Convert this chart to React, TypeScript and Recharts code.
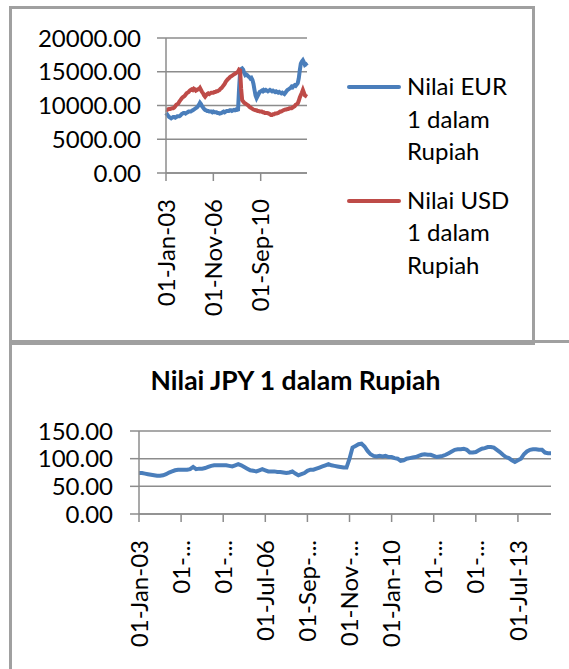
import React from "react";
import { CartesianGrid, Line, LineChart, XAxis, YAxis } from "recharts";

const MONTHS = ["Jan", "Feb", "Mar", "Apr", "May", "Jun", "Jul", "Aug", "Sep", "Oct", "Nov", "Dec"];

// monthly dates, Jan 2003 .. Jun 2014
const dates: string[] = [];
for (let i = 0; i < 138; i++) {
  const yy = String(3 + Math.floor(i / 12)).padStart(2, "0");
  dates.push(`01-${MONTHS[i % 12]}-${yy}`);
}

const eur = [
  8900, 8700, 8500, 8300, 8200, 8100, 8200, 8300, 8300, 8200,
  8300, 8400, 8400, 8400, 8500, 8700, 8800, 8900, 8900, 8800,
  8900, 9000, 9100, 9100, 9100, 9200, 9300, 9400, 9500, 9600,
  9700, 9900, 10100, 10400, 10200, 9900, 9700, 9500, 9350, 9300,
  9200, 9200, 9100, 9100, 9100, 9000, 9100, 9000, 9000, 9000,
  8900, 8900, 8800, 8850, 8900, 9000, 9100, 9000, 9100, 9200,
  9200, 9200, 9300, 9300, 9200, 9300, 9350, 9300, 9400, 9350,
  9400, 12500, 15000, 15400, 15500, 15300, 14800, 14500, 14600, 14500,
  14300, 14200, 14000, 14100, 13800, 13200, 12300, 11500, 11100, 11400,
  11700, 12000, 12100, 12200, 12100, 12300, 12200, 12300, 12200, 12100,
  12200, 12300, 12200, 12100, 12200, 12100, 12000, 12100, 12000, 11900,
  12000, 11900, 11800, 11900, 11800, 11700, 11900, 12100, 12300, 12400,
  12500, 12600, 12800, 12700, 12900, 13000, 12900, 13100, 13300, 14000,
  15200, 16200, 16500, 16700, 16400, 16000, 16100, 15900,
];

const usd = [
  9400, 9350, 9450, 9500, 9500, 9550, 9600, 9600, 9700, 9900,
  10100, 10200, 10300, 10600, 10800, 11000, 11200, 11300, 11400, 11600,
  11800, 11900, 12000, 12200, 12300, 12400, 12300, 12500, 12400, 12200,
  12300, 12400, 12400, 12600, 12300, 12000, 11800, 11500, 11300, 11500,
  11700, 11800, 11700, 11800, 11900, 11900, 11900, 12000, 12000, 12100,
  12100, 12200, 12300, 12500, 12600, 12800, 13000, 13200, 13500, 13700,
  13900, 14000, 14200, 14300, 14400, 14500, 14600, 14700, 14800, 14900,
  15000, 15300, 15200, 12500, 10800, 10600, 10400, 10300, 10200, 10100,
  10000, 9800, 9700, 9600, 9500, 9400, 9350, 9300, 9300, 9200,
  9200, 9100, 9100, 9100, 9000, 9000, 8900, 8900, 8900, 8850,
  8800, 8700, 8600, 8600, 8700, 8700, 8800, 8800, 8850, 8900,
  9000, 9100, 9100, 9200, 9300, 9350, 9400, 9400, 9500, 9500,
  9600, 9600, 9600, 9700, 9800, 9900, 10100, 10200, 10300, 10700,
  11200, 11550, 11900, 12300, 11900, 11500, 11400, 11300,
];

const jpy = [
  74, 74, 73, 72, 71, 70, 69, 69, 70, 72,
  75, 77, 79, 80, 80, 80, 80, 81, 85, 81,
  82, 82, 83, 85, 87, 88, 88, 88, 88, 88,
  87, 86, 88, 90, 88, 85, 82, 79, 78, 77,
  79, 81, 79, 77, 77, 77, 76, 76, 75, 74,
  75, 77, 73, 70, 72, 74, 78, 80, 80, 82,
  84, 86, 88, 90, 88, 87, 86, 85, 84, 84,
  100, 120, 123, 126, 127, 122, 114, 108, 105, 104,
  105, 104, 105, 103, 103, 101, 100, 96, 97, 100,
  101, 102, 103, 105, 107, 108, 107, 107, 105, 103,
  104, 105, 107, 110, 113, 116, 117, 117, 118, 116,
  111, 111, 112, 115, 118, 119, 121, 121, 120, 116,
  112, 107, 103, 101, 97, 94, 97, 100, 108, 113,
  116, 117, 117, 116, 116, 111, 110, 110,
];

const topYTicks = [0, 5000, 10000, 15000, 20000];
const bottomYTicks = [0, 50, 100, 150];
const bottomTickLabels = [
  "01-Jan-03", "01-...", "01-...", "01-Jul-06", "01-Sep-...",
  "01-Nov-...", "01-Jan-10", "01-...", "01-...", "01-Jul-13",
];

const topData = dates.map((d, i) => ({ d, eur: eur[i], usd: usd[i] }));
const bottomData = dates.map((d, i) => ({ d, jpy: jpy[i] }));

const FONT = "Lato, 'Open Sans', sans-serif";
const GRID = "#8c8c8c";
const BLUE = "#4a7ebb";
const RED = "#be4b48";

const RotTick = (props: any) => {
  const { x, y, payload, index, labels } = props;
  const ty = y + 18;
  const text = labels ? labels[index] : payload.value;
  return (
    <text
      x={x}
      y={ty}
      transform={`rotate(-90 ${x} ${ty})`}
      textAnchor="end"
      dy="0.36em"
      fontSize={24}
      fontFamily={FONT}
      fill="#000"
    >
      {text}
    </text>
  );
};

const legendItems = [
  { name: ["Nilai EUR", "1 dalam", "Rupiah"], color: BLUE },
  { name: ["Nilai USD", "1 dalam", "Rupiah"], color: RED },
];

const TopLegend = () => (
  <div style={{ position: "absolute", left: 347, top: 70, fontFamily: FONT, fontSize: 24, color: "#000" }}>
    {legendItems.map((it, k) => (
      <div key={k} style={{ display: "flex", alignItems: "flex-start", marginBottom: k === 0 ? 16 : 0 }}>
        <div style={{ width: 54, height: 4, background: it.color, marginTop: 15, marginRight: 6, borderRadius: 2 }} />
        <div style={{ lineHeight: "32.6px" }}>
          {it.name.map((t, j) => (
            <div key={j}>{t}</div>
          ))}
        </div>
      </div>
    ))}
  </div>
);

export default function App() {
  return (
    <div style={{ position: "absolute", left: 0, top: 0, width: 569, height: 669, background: "#fff", overflow: "hidden" }}>
      <div style={{ position: "absolute", left: 9, top: 6, width: 520, height: 333, border: "3px solid #a0a0a0" }} />
      <div style={{ position: "absolute", left: 9, top: 340, width: 600, height: 400, border: "3px solid #a0a0a0" }} />

      <div style={{ position: "absolute", left: 0, top: 0 }}>
        <LineChart width={569} height={340} data={topData} margin={{ top: 38, right: 262, bottom: 0, left: 0 }}>
          <CartesianGrid horizontal vertical={false} stroke={GRID} strokeWidth={1.5} />
          <XAxis
            dataKey="d"
            interval={45}
            height={167}
            tickSize={8}
            tickMargin={0}
            stroke={GRID}
            strokeWidth={1.5}
            tick={<RotTick />}
          />
          <YAxis
            width={166}
            domain={[0, 20000]}
            ticks={topYTicks}
            interval={0}
            tickSize={9}
            tickMargin={16}
            stroke={GRID}
            strokeWidth={1.5}
            tick={{ fill: "#000", fontSize: 24, fontFamily: FONT }}
            tickFormatter={(v) => v.toFixed(2)}
          />
          <Line dataKey="eur" name="Nilai EUR 1 dalam Rupiah" stroke={BLUE} strokeWidth={4} dot={false} isAnimationActive={false} />
          <Line dataKey="usd" name="Nilai USD 1 dalam Rupiah" stroke={RED} strokeWidth={4} dot={false} isAnimationActive={false} />
        </LineChart>
      </div>
      <TopLegend />

      <div
        style={{
          position: "absolute",
          left: 0,
          width: 591,
          top: 364,
          textAlign: "center",
          fontFamily: FONT,
          fontWeight: 700,
          fontSize: 26.5,
          color: "#000",
        }}
      >
        Nilai JPY 1 dalam Rupiah
      </div>

      <div style={{ position: "absolute", left: 0, top: 342 }}>
        <LineChart width={569} height={327} data={bottomData} margin={{ top: 89, right: 18, bottom: 0, left: 0 }}>
          <CartesianGrid horizontal vertical={false} stroke={GRID} strokeWidth={1.5} />
          <XAxis
            dataKey="d"
            interval={13}
            height={155}
            tickSize={8}
            tickMargin={0}
            stroke={GRID}
            strokeWidth={1.5}
            tick={<RotTick labels={bottomTickLabels} />}
          />
          <YAxis
            width={139}
            domain={[0, 150]}
            ticks={bottomYTicks}
            interval={0}
            tickSize={9}
            tickMargin={17}
            stroke={GRID}
            strokeWidth={1.5}
            tick={{ fill: "#000", fontSize: 24, fontFamily: FONT }}
            tickFormatter={(v) => v.toFixed(2)}
          />
          <Line dataKey="jpy" name="Nilai JPY 1 dalam Rupiah" stroke={BLUE} strokeWidth={4} dot={false} isAnimationActive={false} />
        </LineChart>
      </div>
    </div>
  );
}
